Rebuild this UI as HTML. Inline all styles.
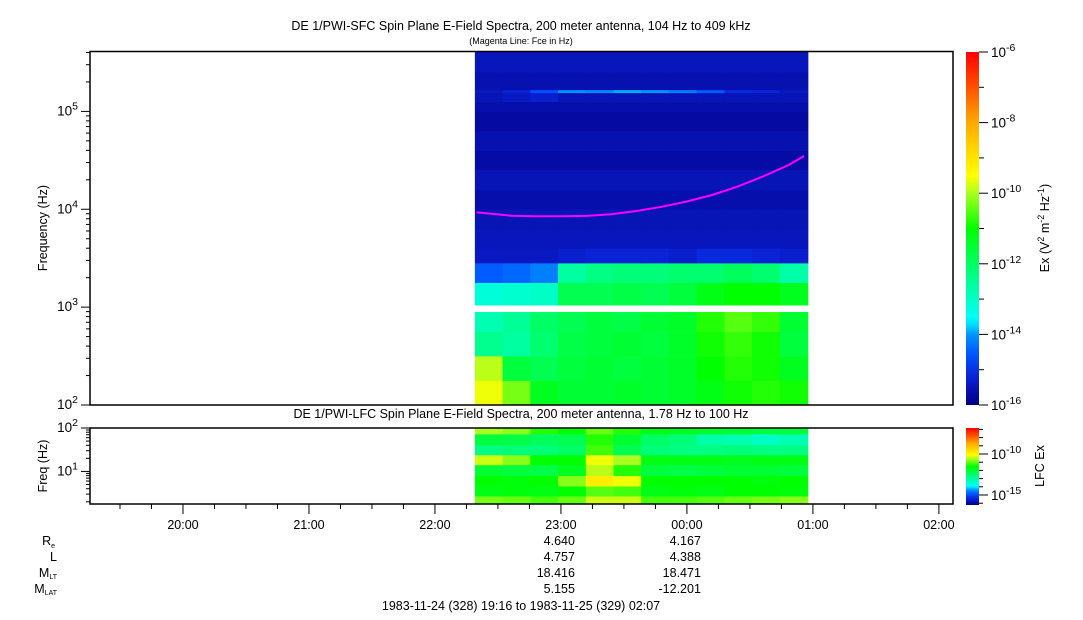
<!DOCTYPE html>
<html><head><meta charset="utf-8"><style>
html,body{margin:0;padding:0;background:#fff;}
svg{display:block;font-family:"Liberation Sans",Arial,sans-serif;}
</style></head><body>
<svg id="chart" width="1083" height="620" viewBox="0 0 1083 620" xmlns="http://www.w3.org/2000/svg">
<text x="521" y="30" font-size="12.5" text-anchor="middle">DE 1/PWI-SFC  Spin Plane E-Field Spectra, 200 meter antenna, 104 Hz to 409 kHz</text>
<text x="521" y="44" font-size="9" text-anchor="middle">(Magenta Line: Fce in Hz)</text>
<text x="521" y="418" font-size="12.5" text-anchor="middle">DE 1/PWI-LFC  Spin Plane E-Field Spectra, 200 meter antenna, 1.78 Hz to 100 Hz</text>
<g id="sfc"></g>
<g id="lfc"></g>
<g id="axes"></g>
<text transform="translate(47,228) rotate(-90)" font-size="12.5" text-anchor="middle">Frequency (Hz)</text>
<text transform="translate(47,466) rotate(-90)" font-size="12.5" text-anchor="middle">Freq (Hz)</text>
<text transform="translate(1049,228) rotate(-90)" font-size="12.5" text-anchor="middle">Ex (V<tspan font-size="9" dy="-5">2</tspan><tspan dy="5"> m</tspan><tspan font-size="9" dy="-5">-2</tspan><tspan dy="5"> Hz</tspan><tspan font-size="9" dy="-5">-1</tspan><tspan dy="5">)</tspan></text>
<text transform="translate(1044,466) rotate(-90)" font-size="12.5" text-anchor="middle">LFC Ex</text>
<g font-size="12.5" text-anchor="end">
<text x="55" y="545">R<tspan font-size="7" dy="3">e</tspan></text>
<text x="57" y="561">L</text>
<text x="57" y="577">M<tspan font-size="7" dy="2">LT</tspan></text>
<text x="57" y="593">M<tspan font-size="7" dy="2">LAT</tspan></text>
</g>
<text x="521" y="610" font-size="12.5" text-anchor="middle">1983-11-24 (328) 19:16 to 1983-11-25 (329) 02:07</text>
</svg>
<script>
// time in hours after 20:00
const colEdges=[2.317,2.537,2.757,2.977,3.197,3.417,3.637,3.857,4.077,4.297,4.517,4.737,4.960];
const sfcRowEdges=[2.0,2.25,2.5,2.75,2.95,3.02,3.25,3.45,3.6,3.8,4.0,4.2,4.4,4.6,4.8,5.0,5.1,5.19,5.22,5.4,5.61];
const sfcValues=[
[-9.6,-10.3,-11.3,-11.5,-11.5,-11.4,-11.5,-11.4,-11.2,-10.9,-10.8,-10.9],
[-9.9,-11.6,-11.8,-11.6,-11.5,-11.6,-11.5,-11.4,-11.0,-10.8,-10.9,-11.3],
[-12.4,-12.6,-12.1,-11.7,-11.6,-11.5,-11.6,-11.4,-10.9,-10.7,-10.9,-11.6],
[-12.8,-12.5,-12.0,-11.8,-11.6,-11.7,-11.5,-11.4,-10.8,-10.5,-10.7,-11.5],
null,
[-13.2,-13.1,-13.0,-11.8,-11.8,-11.7,-11.8,-11.6,-11.2,-11.0,-11.0,-11.3],
[-14.5,-14.4,-14.2,-12.6,-12.3,-12.2,-12.2,-12.1,-12.1,-11.9,-12.1,-12.7],
[-15.4,-15.4,-15.4,-15.3,-15.2,-15.2,-15.2,-15.3,-15.1,-15.1,-15.2,-15.3],
[-15.45,-15.45,-15.45,-15.45,-15.45,-15.45,-15.45,-15.45,-15.45,-15.45,-15.45,-15.45],
[-15.5,-15.5,-15.5,-15.5,-15.5,-15.5,-15.5,-15.5,-15.5,-15.5,-15.5,-15.5],
[-15.6,-15.6,-15.6,-15.6,-15.6,-15.6,-15.6,-15.6,-15.6,-15.6,-15.6,-15.6],
[-15.5,-15.5,-15.5,-15.5,-15.5,-15.5,-15.5,-15.5,-15.5,-15.5,-15.5,-15.5],
[-15.65,-15.65,-15.65,-15.65,-15.65,-15.65,-15.65,-15.65,-15.65,-15.65,-15.65,-15.65],
[-15.55,-15.55,-15.55,-15.55,-15.55,-15.55,-15.55,-15.55,-15.55,-15.55,-15.55,-15.55],
[-15.7,-15.7,-15.7,-15.7,-15.7,-15.7,-15.7,-15.7,-15.7,-15.7,-15.7,-15.7],
[-15.6,-15.6,-15.6,-15.6,-15.6,-15.6,-15.6,-15.6,-15.6,-15.6,-15.6,-15.6],
[-15.5,-15.4,-15.3,-15.5,-15.5,-15.5,-15.5,-15.5,-15.5,-15.5,-15.5,-15.5],
[-15.4,-15.2,-14.6,-14.0,-14.1,-13.9,-14.0,-14.2,-14.5,-15.1,-15.2,-15.4],
[-15.55,-15.55,-15.55,-15.55,-15.55,-15.55,-15.55,-15.55,-15.55,-15.55,-15.55,-15.55],
[-15.45,-15.45,-15.45,-15.45,-15.45,-15.45,-15.45,-15.45,-15.45,-15.45,-15.45,-15.45]
];
const lfcRowEdges=[0.25,0.43,0.66,0.9,1.15,1.38,1.61,1.86,2.0];
const lfcValues=[
[-10.3,-10.4,-10.6,-10.4,-9.8,-9.8,-10.6,-10.6,-10.5,-10.4,-10.3,-10.2],
[-11.2,-11.1,-11.2,-11.0,-10.5,-10.6,-11.2,-11.1,-11.2,-11.0,-11.0,-11.1],
[-11.0,-11.1,-11.0,-10.2,-9.2,-9.6,-11.0,-11.0,-11.0,-11.0,-11.1,-11.0],
[-11.5,-11.6,-11.7,-11.3,-9.9,-10.8,-11.6,-11.7,-11.6,-11.5,-11.5,-11.6],
[-9.8,-10.2,-11.0,-11.0,-9.6,-10.0,-11.2,-11.2,-11.2,-11.3,-11.2,-11.2],
[-12.3,-12.2,-12.2,-12.0,-10.6,-11.8,-12.2,-12.3,-12.3,-12.2,-12.3,-12.3],
[-11.6,-11.7,-11.9,-11.8,-10.8,-11.5,-12.0,-12.2,-12.7,-12.8,-13.0,-12.8],
[-10.0,-10.2,-10.8,-11.0,-10.4,-10.8,-11.2,-11.3,-11.4,-11.5,-11.6,-11.6]
];
const fceTimes=[2.33,2.45,2.6,2.8,3.0,3.2,3.4,3.6,3.8,4.0,4.2,4.4,4.6,4.8,4.93];
const fceValues=[9300,9000,8600,8500,8500,8550,8900,9600,10600,12000,14000,17000,21500,28000,35000];
const hourLabels=["20:00","21:00","22:00","23:00","00:00","01:00","02:00"];
const hourTicks=[0,1,2,3,4,5,6];
const ephTimes=[3,4];
const ephRe=["4.640","4.167"];
const ephL=["4.757","4.388"];
const ephMLT=["18.416","18.471"];
const ephMLAT=["5.155","-12.201"];
const sfcDecades=[2,3,4,5];
const cbTicks=[-6,-8,-10,-12,-14,-16];
</script>
<script>
const NS="http://www.w3.org/2000/svg";
const X0=90,X1=953,T0=-0.738,T1=6.112;
const xs=t=>X0+(t-T0)/(T1-T0)*(X1-X0);
const SY0=405,SY1=51.7,SL0=2,SL1=5.61;
const ys=l=>SY0-(l-SL0)/(SL1-SL0)*(SY0-SY1);
const LY0=504,LY1=428,LL0=0.25,LL1=2.0;
const yl=l=>LY0-(l-LL0)/(LL1-LL0)*(LY0-LY1);
const stops=[[-16,[0,0,128]],[-15.7,[5,10,160]],[-15.2,[10,35,215]],[-14.6,[0,80,255]],[-14,[0,150,255]],[-13.6,[0,255,255]],[-12.5,[0,255,150]],[-11,[0,255,0]],[-10,[170,255,30]],[-9.5,[255,255,0]],[-8,[255,170,0]],[-7,[255,80,0]],[-6,[255,0,0]]];
function cmap(v){
 if(v<=stops[0][0])return "rgb(0,0,128)";
 for(let i=1;i<stops.length;i++){if(v<=stops[i][0]){const a=stops[i-1],b=stops[i],f=(v-a[0])/(b[0]-a[0]);
 const c=a[1].map((q,k)=>Math.round(q+(b[1][k]-q)*f));return `rgb(${c[0]},${c[1]},${c[2]})`;}}
 return "rgb(255,0,0)";}
function mk(tag,attrs,parent){const e=document.createElementNS(NS,tag);for(const k in attrs)e.setAttribute(k,attrs[k]);parent.appendChild(e);return e;}
const sfc=document.getElementById('sfc'),lfc=document.getElementById('lfc'),axes=document.getElementById('axes');
sfcValues.forEach((row,r)=>{if(!row)return;row.forEach((v,c)=>{
 const x=xs(colEdges[c]),w=xs(colEdges[c+1])-x,y=ys(sfcRowEdges[r+1]),h=ys(sfcRowEdges[r])-y;
 const e=mk('rect',{x:x,y:y,width:w+0.5,height:h+0.3,fill:cmap(v)},sfc);
 
 });});
lfcValues.forEach((row,r)=>{row.forEach((v,c)=>{
 const x=xs(colEdges[c]),w=xs(colEdges[c+1])-x,y=yl(lfcRowEdges[r+1]),h=yl(lfcRowEdges[r])-y;
 const e=mk('rect',{x:x,y:y,width:w+0.5,height:h+0.3,fill:cmap(v)},lfc);
 
 });});
let d="";fceTimes.forEach((t,i)=>{d+=(i?"L":"M")+xs(t).toFixed(1)+","+ys(Math.log10(fceValues[i])).toFixed(1);});
const fl=mk('path',{d:d,fill:"none",stroke:"#ff00ff","stroke-width":2},sfc);


const f1=mk('rect',{x:X0,y:51.5,width:X1-X0,height:353.5,fill:"none",stroke:"#000","stroke-width":1.5},axes);

const f2=mk('rect',{x:X0,y:428,width:X1-X0,height:76,fill:"none",stroke:"#000","stroke-width":1.5},axes);

for(let dcd=2;dcd<=5;dcd++)for(let m=1;m<10;m++){const l=dcd+Math.log10(m);if(l>SL1)break;const y=ys(l);
 mk('line',{x1:X0-(m==1?9:4),x2:X0,y1:y,y2:y,stroke:"#000"},axes);}
sfcDecades.forEach(dc=>{const t=mk('text',{x:78,y:ys(dc)+4,"font-size":13.5,"text-anchor":"end"},axes);
 
 t.innerHTML=`10<tspan font-size="10.5" dy="-6">${dc}</tspan>`;});
[0,1].forEach(dc=>{for(let m=1;m<10;m++){const l=dc+Math.log10(m);if(l<LL0)continue;if(l>LL1)break;const y=yl(l);
 mk('line',{x1:X0-(m==1?9:4),x2:X0,y1:y,y2:y,stroke:"#000"},axes);}});
mk('line',{x1:X0-9,x2:X0,y1:yl(2),y2:yl(2),stroke:"#000"},axes);
[1,2].forEach(dc=>{const t=mk('text',{x:78,y:yl(dc)+4,"font-size":13.5,"text-anchor":"end"},axes);
 
 t.innerHTML=`10<tspan font-size="10.5" dy="-6">${dc}</tspan>`;});
for(let q=-2;q<=24;q++){const t=q/4;if(t<T0||t>T1)continue;const x=xs(t);
 mk('line',{x1:x,x2:x,y1:504,y2:504+(q%4==0?10:5),stroke:"#000"},axes);}
hourTicks.forEach((h,i)=>{const t=mk('text',{x:xs(h),y:529,"font-size":12.5,"text-anchor":"middle"},axes);
 t.textContent=hourLabels[i];});
[ephRe,ephL,ephMLT,ephMLAT].forEach((arr,r)=>{arr.forEach((v,i)=>{const t=mk('text',{x:xs(ephTimes[i])+14,y:545+16*r,"font-size":12.5,"text-anchor":"end"},axes);
 t.textContent=v;});});
const defs=mk('defs',{},axes);const g=mk('linearGradient',{id:"cg",x1:0,y1:1,x2:0,y2:0},defs);
for(let v=-16;v<=-6;v+=0.25){mk('stop',{offset:((v+16)/10).toFixed(3),"stop-color":cmap(v)},g);}
const cb=mk('rect',{x:966,y:52,width:13,height:353,fill:"url(#cg)"},axes);

const cby=v=>405-(v+16)/10*353;
for(let v=-16;v<=-6;v++){mk('line',{x1:979,x2:979+(v%2==0?9:5),y1:cby(v),y2:cby(v),stroke:"#000"},axes);}
cbTicks.forEach(v=>{const t=mk('text',{x:991,y:cby(v)+5,"font-size":13.5},axes);
 
 t.innerHTML=`10<tspan font-size="10.5" dy="-6">${v}</tspan>`;});
const cb2=mk('rect',{x:966,y:428,width:13,height:77,fill:"url(#cg)"},axes);

const cly=v=>454+(v+10)*(-8.2);
for(let v=-16;v<=-7;v++){mk('line',{x1:979,x2:979+(v%5==0?9:4),y1:cly(v),y2:cly(v),stroke:"#000"},axes);}
[-10,-15].forEach(v=>{const t=mk('text',{x:991,y:cly(v)+5,"font-size":13.5},axes);
 
 t.innerHTML=`10<tspan font-size="10.5" dy="-6">${v}</tspan>`;});
</script>
</body></html>
